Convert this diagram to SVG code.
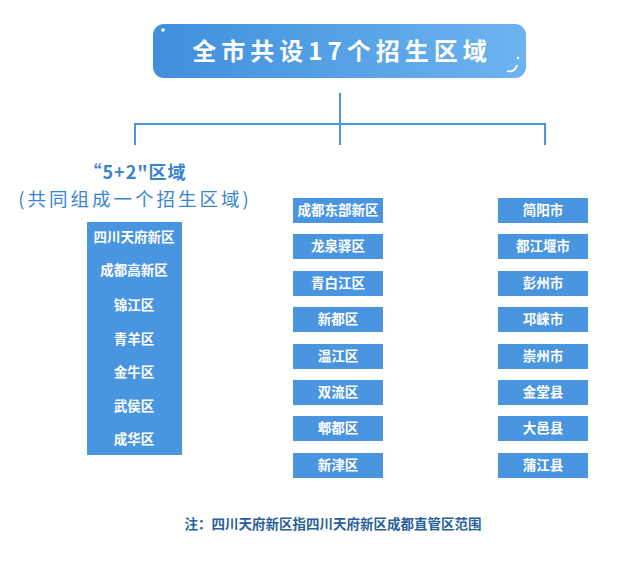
<svg xmlns="http://www.w3.org/2000/svg" width="639" height="563" viewBox="0 0 639 563">
<defs>
<linearGradient id="g" x1="0" x2="1" y1="0" y2="0"><stop offset="0" stop-color="#3f8fdc"/><stop offset="1" stop-color="#6db3f0"/></linearGradient>
<style>
.b{fill:#4a95e0}
.t{font-family:"Noto Sans CJK SC","Noto Sans",sans-serif;font-weight:bold;font-size:13.5px;fill:#fff;text-anchor:middle}
.l{stroke:#4a95e0;stroke-width:2;fill:none}
</style>
</defs>
<rect width="639" height="563" fill="#fff"/>
<g id="title">
<rect x="153" y="24" width="373" height="54" rx="11" fill="url(#g)"/>
<circle cx="163" cy="30" r="1.8" fill="#fff"/>
<path d="M507 71 q8 2 10 -6" stroke="#fff" stroke-width="1.8" fill="none"/>
<circle cx="518" cy="58" r="1.3" fill="#fff"/>
<text x="342" y="60" style="font-family:'Noto Sans CJK SC',sans-serif;font-weight:bold;font-size:24px;fill:#fff;text-anchor:middle;letter-spacing:5px">全市共设17个招生区域</text>
</g>
<g id="connectors">
<path class="l" d="M340 93V145M135 145V124H545V145"/>
</g>
<g id="group52">
<text x="135" y="179" style="font-family:'Noto Sans CJK SC',sans-serif;font-weight:bold;font-size:18px;fill:#3a84d0;text-anchor:middle;letter-spacing:1px">“5+2"区域</text>
<text x="135" y="206" style="font-family:'Noto Sans CJK SC',sans-serif;font-size:18.5px;fill:#3a84d0;text-anchor:middle;letter-spacing:3px">(共同组成一个招生区域)</text>
<rect class="b" x="87" y="222" width="95" height="233"/>
<text class="t" x="134" y="242">四川天府新区</text>
<text class="t" x="134" y="275">成都高新区</text>
<text class="t" x="134" y="310">锦江区</text>
<text class="t" x="134" y="344">青羊区</text>
<text class="t" x="134" y="377">金牛区</text>
<text class="t" x="134" y="411">武侯区</text>
<text class="t" x="134" y="444">成华区</text>
</g>
<g id="mid">
<rect class="b" x="293" y="198" width="90" height="25"/><text class="t" x="338" y="215">成都东部新区</text>
<rect class="b" x="293" y="234" width="90" height="25"/><text class="t" x="338" y="251">龙泉驿区</text>
<rect class="b" x="293" y="271" width="90" height="25"/><text class="t" x="338" y="288">青白江区</text>
<rect class="b" x="293" y="307" width="90" height="25"/><text class="t" x="338" y="324">新都区</text>
<rect class="b" x="293" y="344" width="90" height="25"/><text class="t" x="338" y="361">温江区</text>
<rect class="b" x="293" y="380" width="90" height="25"/><text class="t" x="338" y="397">双流区</text>
<rect class="b" x="293" y="416" width="90" height="25"/><text class="t" x="338" y="433">郫都区</text>
<rect class="b" x="293" y="453" width="90" height="25"/><text class="t" x="338" y="470">新津区</text>
</g>
<g id="right">
<rect class="b" x="498" y="198" width="90" height="25"/><text class="t" x="543" y="215">简阳市</text>
<rect class="b" x="498" y="234" width="90" height="25"/><text class="t" x="543" y="251">都江堰市</text>
<rect class="b" x="498" y="271" width="90" height="25"/><text class="t" x="543" y="288">彭州市</text>
<rect class="b" x="498" y="307" width="90" height="25"/><text class="t" x="543" y="324">邛崃市</text>
<rect class="b" x="498" y="344" width="90" height="25"/><text class="t" x="543" y="361">崇州市</text>
<rect class="b" x="498" y="380" width="90" height="25"/><text class="t" x="543" y="397">金堂县</text>
<rect class="b" x="498" y="416" width="90" height="25"/><text class="t" x="543" y="433">大邑县</text>
<rect class="b" x="498" y="453" width="90" height="25"/><text class="t" x="543" y="470">蒲江县</text>
</g>
<text x="333" y="529" style="font-family:'Noto Sans CJK SC',sans-serif;font-weight:bold;font-size:13.5px;fill:#2a5f9a;text-anchor:middle">注：四川天府新区指四川天府新区成都直管区范围</text>
</svg>
